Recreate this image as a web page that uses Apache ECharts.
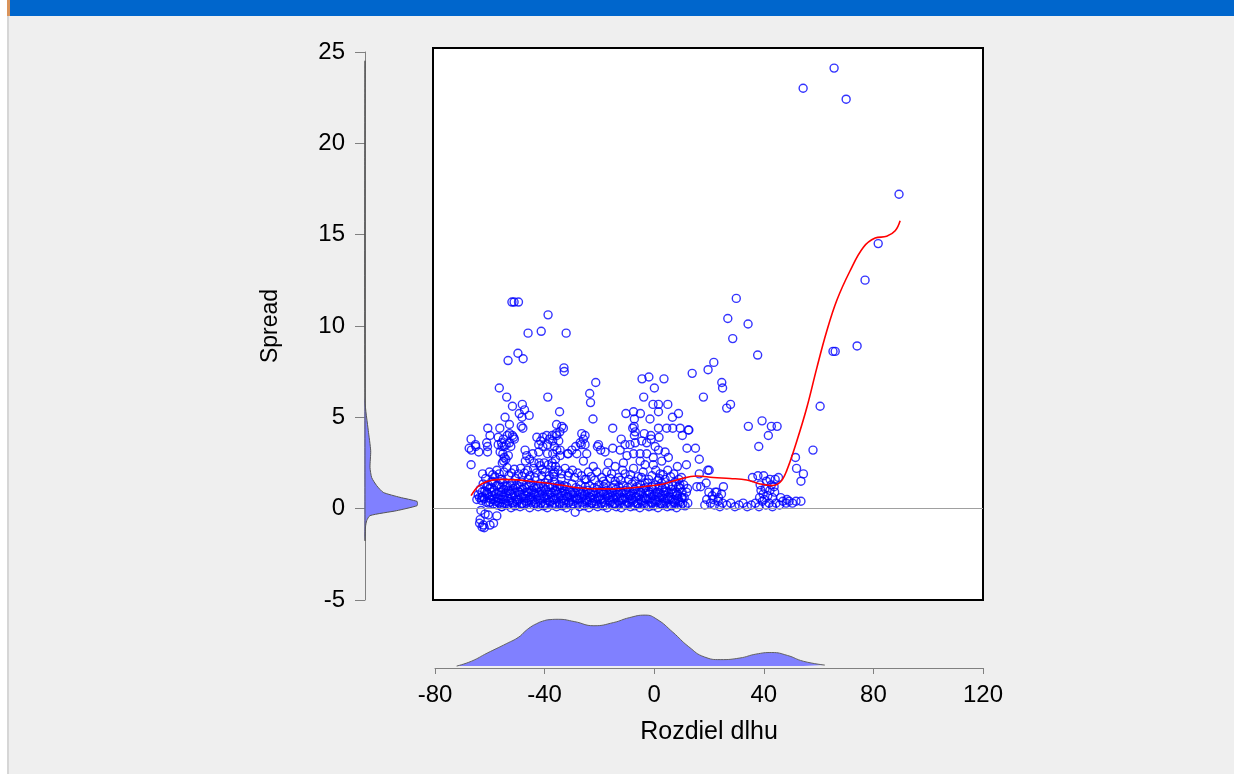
<!DOCTYPE html>
<html>
<head>
<meta charset="utf-8">
<script src="https://cdn.jsdelivr.net/npm/echarts@6/dist/echarts.min.js"></script>
<style>
  html, body { margin: 0; padding: 0; background: #efefef; }
  #chart { position: absolute; left: 0; top: 0; width: 1234px; height: 774px; }
  .bar { position: absolute; left: 10px; top: 0; width: 1224px; height: 16px; background: #0066cc; z-index: 2; }
  .edge { position: absolute; left: 0; top: 0; width: 7px; height: 774px; background: #fff; z-index: 2; }
  .edgeLine { position: absolute; left: 7px; top: 0; width: 2px; height: 774px; background: #d6d6d6; z-index: 2; }
  .edgeTop { position: absolute; left: 7px; top: 0; width: 3px; height: 16px; background: #d9935a; z-index: 3; }
</style>
</head>
<body>
<div class="edge"></div><div class="edgeLine"></div><div class="edgeTop"></div><div class="bar"></div>
<div id="chart"></div>
<script>
// Scatter: Rozdiel dlhu (x) vs Spread (y)
const outlierPoints = [
  [54.4,23.0],[65.7,24.1],[70.1,22.4],[89.4,17.2],[81.8,14.5],[77.0,12.5],[65.3,8.6],[66.1,8.6],
  [74.1,8.9],[60.6,5.6],[58.0,3.2],[51.6,2.8],[52.0,2.2],[54.5,1.9],[53.6,1.5]
];

const upperRightPoints = [
  [30.0,11.5],[26.9,10.4],[34.3,10.1],[28.7,9.3],[37.8,8.4],[21.8,8.0],[19.7,7.6],[13.9,7.4],
  [24.7,6.9],[25.0,6.6],[18.0,6.1],[27.9,5.7],[26.5,5.5],[34.4,4.5],[39.4,4.8],[42.8,4.5],
  [44.9,4.5],[41.7,4.0],[38.2,3.4],[12.7,4.3],[10.3,4.0],[12.0,3.3],[15.1,3.3],[16.5,2.7],
  [11.8,2.4],[16.5,1.9],[19.6,2.1],[20.1,2.1],[19.0,1.4],[15.6,1.2],[17.0,1.2],[12.2,1.1],
  [25.3,1.2],[22.9,0.9],[35.9,1.7],[37.9,1.8],[40.0,1.8],[38.7,1.3],[42.3,1.6],[44.2,1.6],
  [45.4,1.7],[5.0,5.7],[6.7,5.0],[8.9,5.2],[4.6,4.4],[6.8,4.4],[9.5,4.4],[12.5,4.3]
];

const upperLeftPoints = [
  [-51.9,11.3],[-51.1,11.3],[-49.5,11.3],[-38.7,10.6],[-46.0,9.6],[-41.2,9.7],[-32.1,9.6],
  [-49.7,8.5],[-47.8,8.2],[-53.3,8.1],[-32.9,7.7],[-32.8,7.5],[-56.5,6.6],[-38.8,6.1],
  [-53.8,6.1],[-51.7,5.6],[-48.1,5.7],[-47.3,5.4],[-49.2,5.2],[-48.2,5.0],[-45.6,5.1],
  [-54.4,5.0],[-48.5,4.5],[-47.9,4.4],[-52.8,4.6],[-34.5,5.3],[-35.6,4.6],[-33.7,4.5],
  [-34.4,4.2],[-35.5,4.0],[-33.1,4.4],[-60.7,4.4],[-59.9,4.0],[-61.1,3.6],[-60.8,3.4],
  [-60.8,3.1],[-66.8,3.8],[-67.5,3.3],[-65.2,3.5],[-65.1,3.4],[-66.7,3.2],[-64.0,3.1],
  [-66.8,2.4],[-56.3,4.4],[-56.9,3.9],[-55.0,3.8],[-55.7,3.6],[-56.9,3.5],[-55.5,3.4],
  [-54.7,3.4],[-56.2,3.1],[-55.2,3.0],[-54.7,2.8],[-53.2,2.9],[-53.6,4.0],[-51.7,4.0],
  [-51.3,3.9],[-52.8,3.6],[-54.0,3.5],[-52.3,3.4],[-51.0,3.8],[-52.8,4.1],[-54.9,2.6],
  [-55.4,2.5],[-54.1,2.7],[-56.5,1.9],[-47.1,3.2],[-46.5,2.9],[-45.4,2.7],[-47.0,2.6],
  [-44.3,3.0],[-42.1,3.1],[-42.8,3.9],[-41.4,3.7],[-42.1,3.5],[-40.6,3.9],[-39.2,4.0],
  [-38.2,3.8],[-40.6,3.4],[-38.9,3.5],[-37.0,3.7],[-36.4,3.4],[-38.9,3.0],[-37.0,3.0],
  [-35.5,3.2],[-34.8,3.7],[-35.8,4.1],[-37.2,4.0],[-34.3,3.2],[-31.6,3.0],[-34.3,2.9],
  [-36.0,2.7],[-37.2,2.5],[-36.0,2.3],[-36.4,2.0],[-43.8,2.5],[-42.0,2.5],[-40.1,2.5],
  [-38.6,2.4],[-44.0,2.2],[-41.6,2.35],[-39.8,2.0],[-37.3,2.3],[-45.3,1.8],[-36.8,1.9],
  [-59.2,1.5]
];

const upperMidPoints = [
  [-21.3,6.9],[-23.5,6.3],[-23.2,5.8],[-22.3,4.9],[-4.4,7.1],[-1.9,7.2],[3.6,7.1],[0.1,6.6],
  [-3.8,6.1],[-0.4,5.7],[1.6,5.7],[1.6,5.3],[-10.3,5.2],[-7.5,5.3],[-5.0,5.2],[-1.5,4.9],
  [-7.2,4.9],[-7.3,4.5],[-7.8,4.4],[-6.9,4.2],[-7.2,4.0],[-15.1,4.4],[1.6,4.4],[-3.6,4.1],
  [-1.2,4.0],[1.8,3.9],[-1.1,3.8],[-12.0,3.8],[-26.4,4.1],[-25.2,4.0],[-25.8,3.8],[-27.0,3.6],
  [-26.6,3.5],[-25.2,3.5],[-28.6,3.4],[-31.3,3.0],[-20.3,3.5],[-20.7,3.4],[-19.5,3.2],
  [-17.9,3.1],[-15.1,3.3],[-12.4,3.2],[-10.6,3.5],[-8.8,3.5],[-6.9,3.6],[-4.5,3.7],[-2.7,3.6],
  [0.4,3.4],[1.6,3.2],[4.0,3.1],[5.2,2.8],[2.8,2.6],[-0.3,2.8],[-2.7,3.0],[-5.1,3.0],
  [-7.5,3.0],[-9.9,2.9],[-24.0,2.0],[-22.2,2.3],[-20.9,2.0],[-19.1,1.7],[-17.3,2.0],
  [-14.2,2.3],[-13.0,1.7],[-7.5,2.2],[-11.2,2.5],[-16.7,2.5],[-6.9,1.5],[-3.3,1.4],[-0.8,1.8],
  [2.2,1.9],[4.0,1.6],[-10.6,1.9],[-14.2,1.5],[-3.3,2.4],[-0.3,2.4],[-5.1,2.6],[-25.8,2.6],
  [-24.6,3.0],[-28.2,3.0],[-30.0,3.2]
];

const bandPoints = [
  [-57.3,0.2],[-55.6,0.1],[-54.1,0.25],[-52.2,0.05],[-50.8,0.15],[-48.9,0.1],[-47.5,0.2],[-45.4,0.05],
  [-44.0,0.2],[-42.3,0.1],[-40.4,0.15],[-39.0,0.05],[-37.1,0.2],[-35.6,0.1],[-33.5,0.15],[-32.0,0.05],
  [-30.4,0.2],[-28.8,-0.2],[-27.2,0.1],[-25.5,0.15],[-23.8,0.05],[-22.0,0.2],[-20.6,0.1],[-18.7,0.15],
  [-17.1,0.05],[-15.3,0.2],[-13.8,0.1],[-12.0,0.05],[-10.4,0.2],[-8.6,0.1],[-7.1,0.15],[-5.2,0.05],
  [-3.7,0.2],[-1.9,0.1],[-0.3,0.15],[1.4,0.05],[3.1,0.2],[4.8,0.1],[6.4,0.15],[8.2,0.05],[9.8,0.2],[11.3,0.15],
  [-60.4,0.3],[-58.7,0.25],[-56.9,0.35],[-55.1,0.3],[-53.5,0.2],[-51.8,0.3],[-50.0,0.35],[-48.4,0.25],
  [-46.6,0.3],[-44.8,0.35],[-43.3,0.25],[-41.4,0.3],[-39.8,0.2],[-38.0,0.35],[-36.3,0.3],[-34.6,0.25],
  [-32.9,0.3],[-31.1,0.35],[-29.5,0.25],[-27.8,0.3],[-26.0,0.2],[-24.4,0.35],[-22.6,0.3],[-21.0,0.25],
  [-19.2,0.3],[-17.6,0.2],[-15.9,0.35],[-14.2,0.25],[-12.5,0.3],[-10.8,0.2],[-9.1,0.3],[-7.4,0.35],
  [-5.8,0.25],[-4.0,0.3],[-2.3,0.2],[-0.7,0.3],[1.0,0.35],[2.7,0.25],[4.4,0.3],[6.1,0.2],[7.8,0.3],[9.4,0.35],
  [-63.0,0.45],[-61.3,0.35],[-59.6,0.5],[-58.0,0.4],[-56.4,0.3],[-54.9,0.5],[-53.1,0.4],[-51.6,0.35],
  [-49.8,0.45],[-48.2,0.3],[-46.4,0.4],[-44.9,0.5],[-43.1,0.35],[-41.5,0.45],[-39.7,0.3],[-38.2,0.4],
  [-36.4,0.5],[-34.7,0.35],[-33.0,0.45],[-31.3,0.3],[-29.6,0.4],[-28.0,0.5],[-26.3,0.35],[-24.7,0.45],
  [-22.9,0.3],[-21.3,0.4],[-19.6,0.5],[-17.9,0.35],[-16.2,0.45],[-14.6,0.3],[-12.9,0.4],[-11.2,0.5],
  [-9.5,0.35],[-7.9,0.45],[-6.1,0.3],[-4.5,0.4],[-2.8,0.5],[-1.1,0.35],[0.6,0.45],[2.2,0.3],[4.0,0.4],
  [5.6,0.5],[7.3,0.35],[9.0,0.45],[10.5,0.3],
  [-63.7,0.6],[-62.0,0.55],[-60.2,0.6],[-58.6,0.5],[-56.8,0.55],[-55.2,0.65],[-53.4,0.55],[-51.9,0.6],
  [-50.1,0.5],[-48.5,0.6],[-46.8,0.55],[-45.1,0.65],[-43.4,0.5],[-41.7,0.6],[-40.0,0.55],[-38.4,0.6],
  [-36.7,0.5],[-35.0,0.6],[-33.3,0.55],[-31.6,0.65],[-29.9,0.5],[-28.3,0.55],[-26.6,0.6],[-24.9,0.5],
  [-23.2,0.6],[-21.6,0.55],[-19.9,0.65],[-18.2,0.5],[-16.5,0.6],[-14.8,0.55],[-13.2,0.6],[-11.5,0.5],
  [-9.8,0.6],[-8.1,0.55],[-6.4,0.65],[-4.8,0.5],[-3.1,0.55],[-1.4,0.6],[0.3,0.5],[2.0,0.6],[3.6,0.55],
  [5.3,0.65],[7.0,0.5],[8.7,0.55],[10.3,0.6],
  [-64.2,0.75],[-62.6,0.65],[-60.7,0.8],[-59.1,0.7],[-57.2,0.6],[-55.7,0.75],[-53.8,0.7],[-52.3,0.8],
  [-50.5,0.65],[-48.9,0.75],[-47.0,0.7],[-45.5,0.6],[-43.7,0.8],[-42.1,0.7],[-40.3,0.65],[-38.8,0.75],
  [-37.0,0.6],[-35.4,0.8],[-33.7,0.7],[-32.0,0.65],[-30.3,0.75],[-28.7,0.6],[-27.0,0.8],[-25.4,0.7],
  [-23.6,0.65],[-22.1,0.75],[-20.3,0.6],[-18.6,0.8],[-17.0,0.7],[-15.2,0.65],[-13.6,0.75],[-11.9,0.6],
  [-10.2,0.8],[-8.6,0.7],[-6.8,0.65],[-5.3,0.75],[-3.5,0.6],[-1.8,0.8],[-0.1,0.7],[1.5,0.65],[3.3,0.75],
  [4.9,0.6],[6.6,0.8],[8.3,0.7],[10.0,0.6],
  [-62.8,0.9],[-61.1,0.85],[-59.3,0.9],[-57.7,0.8],[-55.9,0.9],[-54.3,0.85],[-52.6,0.95],[-50.9,0.85],
  [-49.2,0.9],[-47.5,0.8],[-45.8,0.9],[-44.1,0.85],[-42.4,0.9],[-40.7,0.8],[-39.0,0.9],[-37.3,0.85],
  [-35.6,0.95],[-33.9,0.85],[-32.2,0.8],[-30.5,0.9],[-28.8,0.85],[-27.1,0.9],[-25.4,0.8],[-23.7,0.85],
  [-22.0,0.9],[-20.3,0.85],[-18.6,0.9],[-16.9,0.8],[-15.2,0.85],[-13.5,0.9],[-11.8,0.85],[-10.1,0.9],
  [-8.4,0.8],[-6.7,0.85],[-5.0,0.9],[-3.3,0.85],[-1.6,0.9],[0.1,0.8],[1.8,0.85],[3.5,0.9],[5.2,0.85],
  [6.9,0.9],[8.6,0.8],[10.2,0.9],
  [-63.5,1.05],[-61.8,0.95],[-60.0,1.1],[-58.3,1.0],[-56.7,0.9],[-54.9,1.05],[-53.2,1.0],[-51.4,1.1],
  [-49.7,0.95],[-48.0,1.05],[-46.3,0.9],[-44.6,1.0],[-42.8,1.1],[-41.1,0.95],[-39.5,1.05],[-37.7,0.9],
  [-36.0,1.0],[-34.3,1.1],[-32.5,0.95],[-30.9,1.0],[-29.1,0.9],[-27.5,1.05],[-25.7,0.95],[-24.1,1.0],
  [-22.4,0.9],[-20.7,1.05],[-19.0,0.95],[-17.3,1.0],[-15.6,0.9],[-13.9,1.05],[-12.2,0.95],[-10.5,1.0],
  [-8.8,0.9],[-7.1,1.05],[-5.5,0.95],[-3.8,1.1],[-2.1,0.95],[-0.4,1.05],[1.3,0.9],[3.0,1.1],[4.6,0.95],
  [6.3,1.05],[8.0,0.9],[9.6,1.1],
  [-61.0,1.2],[-59.2,1.15],[-57.5,1.25],[-55.8,1.15],[-54.0,1.2],[-52.4,1.25],[-50.6,1.15],[-48.9,1.2],
  [-47.2,1.15],[-45.5,1.25],[-43.8,1.15],[-42.1,1.2],[-40.4,1.15],[-38.7,1.2],[-37.0,1.15],[-35.3,1.2],
  [-33.6,1.15],[-31.9,1.2],[-28.5,1.15],[-25.1,1.2],[-21.8,1.15],[-18.4,1.2],[-15.0,1.15],[-12.9,1.2],
  [-9.6,1.15],[-6.3,1.2],[-3.0,1.15],[-0.9,1.2],[1.8,1.2],[4.1,1.15],[6.8,1.25],[8.9,1.2],
  [-62.4,1.35],[-60.6,1.3],[-58.8,1.45],[-57.0,1.3],[-55.3,1.4],[-53.6,1.25],[-51.9,1.4],[-50.1,1.3],
  [-48.4,1.45],[-46.7,1.3],[-45.0,1.4],[-43.2,1.25],[-41.5,1.35],[-39.8,1.4],[-38.0,1.3],[-36.3,1.45],
  [-34.5,1.3],[-32.8,1.25],[-30.0,1.35],[-26.8,1.3],[-23.5,1.25],[-20.1,1.3],[-17.8,1.35],[-14.4,1.3],
  [-11.3,1.25],[-8.1,1.35],[-5.0,1.3],[-2.4,1.4],[0.5,1.3],[2.7,1.4],[5.3,1.3],[7.6,1.45],[9.4,1.3],
  [-61.5,1.65],[-58.1,1.75],[-55.8,1.6],[-53.0,1.8],[-50.6,1.65],[-48.2,1.75],[-45.9,1.6],[-43.5,1.7],
  [-41.0,1.8],[-38.7,1.6],[-36.5,1.75],[-33.9,1.65],[-31.4,1.8],[-25.3,1.6],[-16.0,1.65],[-9.2,1.6],
  [-4.6,1.7],[1.9,1.65],[6.0,1.75],[9.0,1.6],
  [-62.6,1.9],[-60.1,2.0],[-58.9,1.85],[-57.4,2.1],[-56.2,1.6],[-54.8,2.0],[-53.7,2.25],[-52.1,1.95],
  [-51.0,2.15],[-49.5,1.9],[-48.7,2.2],[-47.3,1.95],[-46.2,2.1],[-43.0,1.95],[-40.8,2.15],[-38.3,1.8],
  [-35.0,2.1],[-33.8,1.9],[-32.5,2.2],[-31.0,1.95],[-29.8,2.1],[-29.0,1.7],[-27.9,1.95],[-26.5,1.8],
  [-24.8,1.6],[-23.0,1.75],[-21.7,1.55],[-18.5,1.5],[-15.5,1.9],[-12.2,1.55],[-11.5,2.1],[-8.6,1.85],
  [-5.8,1.75],[-4.0,2.0],[-2.0,1.6],[0.6,2.1],[1.4,1.55],[3.3,1.85],[5.0,2.1],[7.2,1.9],[8.5,2.3],[10.0,1.7]
];

const lowRightPoints = [
  [11.0,0.6],[11.8,0.9],[10.8,1.3],[12.3,0.3],
  [20.0,0.9],[21.2,0.7],[22.3,0.9],[23.5,0.6],[24.6,0.8],[19.2,0.5],[20.6,0.3],[22.0,0.2],[23.4,0.4],
  [25.0,0.3],[18.5,0.2],[21.5,0.5],[24.0,0.1],
  [26.5,0.2],[28.0,0.3],[29.5,0.1],[31.0,0.2],[32.5,0.3],[34.0,0.1],[35.5,0.2],[37.0,0.3],[38.3,0.1],
  [39.5,0.4],[40.8,0.2],[42.0,0.3],[43.2,0.1],[44.5,0.3],[45.8,0.2],[47.0,0.4],[48.2,0.3],[49.3,0.4],
  [50.5,0.3],[51.8,0.4],[53.6,0.4],
  [38.5,0.6],[39.8,0.8],[40.5,1.1],[41.5,0.7],[42.3,1.0],[43.2,0.6],[44.0,0.9],[40.2,0.5],[42.8,1.3],
  [39.0,1.0],[41.0,1.5],[43.8,1.2],[46.2,0.6],[48.5,0.5]
];

const negativePoints = [
  [-64.7,0.5],[-62.9,0.6],[-63.2,-0.1],[-63.5,-0.6],[-63.7,-0.8],[-62.3,-0.9],[-59.9,-0.9],[-58.6,-0.8],
  [-61.7,-0.3],[-57.4,-0.4],[-55.6,0.1],[-59.9,0.35],[-62.0,-1.05],[-62.8,-1.0],[-60.5,-0.35]
];

// Smoothed fit (red)
const fitLine = [
  [-66.8,0.71],[-63.5,1.3],[-58.6,1.57],[-55.6,1.6],[-50.1,1.57],[-45.3,1.5],[-39.2,1.4],[-33.1,1.26],
  [-27.0,1.13],[-20.9,1.08],[-14.8,1.08],[-8.8,1.13],[-2.7,1.22],[3.4,1.35],[9.0,1.6],[15.6,1.78],
  [21.6,1.7],[27.7,1.65],[33.8,1.57],[38.7,1.35],[42.9,1.26],[46.0,1.44],[48.4,2.08],[52.1,3.7],
  [55.7,5.5],[59.4,7.7],[63.0,9.7],[66.7,11.4],[71.5,13.0],[76.4,14.3],[80.7,14.8],[84.9,14.9],
  [88.0,15.2],[89.8,15.75]
];

// Kernel density of Rozdiel dlhu (bottom margin)
const xDensity = [
  [-72.1,0],[-66.7,0.015],[-61.0,0.040],[-53.8,0.070],[-49.4,0.090],[-47.2,0.107],[-45.1,0.121],
  [-43.0,0.131],[-40.8,0.139],[-38.0,0.144],[-35.0,0.145],[-29.2,0.138],[-22.0,0.125],[-14.8,0.135],
  [-9.1,0.150],[-3.3,0.158],[1.0,0.145],[6.8,0.105],[12.6,0.060],[18.4,0.028],[24.1,0.020],
  [31.3,0.025],[37.1,0.037],[42.9,0.042],[48.6,0.033],[54.4,0.015],[62.3,0.003]
];

// Kernel density of Spread (left margin): [density, spread]
const yDensity = [
  [0,24.5],[0,5.9],[0.033,4.27],[0.057,3.17],[0.05,2.26],[0.067,1.7],[0.117,1.26],[0.183,0.89],
  [0.35,0.62],[0.52,0.4],[0.525,0.28],[0.52,0.16],[0.317,-0.11],[0.05,-0.38],[0.017,-0.66],
  [0.005,-1.0],[0,-1.75]
];

const xTicks = { min: -80, max: 120, interval: 40 };
const yTicks = { min: -5, max: 25, interval: 5 };

const allPoints = [].concat(outlierPoints, upperRightPoints, upperLeftPoints, upperMidPoints,
  bandPoints, lowRightPoints, negativePoints);

const font = 'Liberation Sans, Arial, sans-serif';
const axisGrey = '#808080';

const chart = echarts.init(document.getElementById('chart'));
chart.setOption({
  animation: false,
  backgroundColor: 'transparent',
  textStyle: { fontFamily: font },
  grid: [
    { left: 433, top: 48, width: 550, height: 552, show: true, backgroundColor: '#ffffff',
      borderColor: '#000000', borderWidth: 2 },
    { left: 365, top: 52, width: 60, height: 548 },
    { left: 435, top: 608, width: 548, height: 60 }
  ],
  xAxis: [
    { gridIndex: 0, type: 'value', min: -80.7, max: 120.05, show: false },
    { gridIndex: 1, type: 'value', min: 0, max: 0.6, show: false },
    { gridIndex: 2, type: 'value', min: xTicks.min, max: xTicks.max, interval: xTicks.interval,
      position: 'bottom',
      name: 'Rozdiel dlhu', nameLocation: 'middle', nameGap: 52,
      nameTextStyle: { color: '#000', fontSize: 25, fontFamily: font },
      axisLine: { onZero: false, lineStyle: { color: axisGrey, width: 1 } },
      axisTick: { length: 6, lineStyle: { color: axisGrey } },
      axisLabel: { color: '#000', fontSize: 24, margin: 15, fontFamily: font },
      splitLine: { show: false } }
  ],
  yAxis: [
    { gridIndex: 0, type: 'value', min: -5, max: 25.2, show: false },
    { gridIndex: 1, type: 'value', min: yTicks.min, max: yTicks.max, interval: yTicks.interval,
      position: 'left',
      name: 'Spread', nameLocation: 'middle', nameGap: 83,
      nameTextStyle: { color: '#000', fontSize: 23, fontFamily: font },
      axisLine: { show: true, onZero: false, lineStyle: { color: axisGrey, width: 1 } },
      axisTick: { show: true, length: 10, lineStyle: { color: axisGrey } },
      axisLabel: { color: '#000', fontSize: 24, margin: 20, fontFamily: font },
      splitLine: { show: false } },
    { gridIndex: 2, type: 'value', min: -0.006, max: 0.18, show: false }
  ],
  series: [
    {
      type: 'scatter', xAxisIndex: 0, yAxisIndex: 0,
      data: allPoints,
      symbol: 'circle', symbolSize: 8,
      itemStyle: { color: 'transparent', borderColor: '#0000ff', borderWidth: 1.4 },
      emphasis: { disabled: true },
      markLine: {
        silent: true, symbol: 'none', label: { show: false },
        lineStyle: { color: '#a0a0a0', width: 1, type: 'solid' },
        data: [{ yAxis: 0 }]
      },
      z: 3
    },
    {
      type: 'line', xAxisIndex: 0, yAxisIndex: 0,
      data: fitLine, smooth: 0.4, showSymbol: false,
      lineStyle: { color: '#ff0000', width: 1.6 },
      z: 4
    },
    {
      type: 'custom', xAxisIndex: 1, yAxisIndex: 1, coordinateSystem: 'cartesian2d',
      data: [[0, 0]], clip: false,
      renderItem: function (params, api) {
        const pts = yDensity.map(function (d) { return api.coord([d[0], d[1]]); });
        return { type: 'polygon', shape: { points: pts, smooth: 0.2 },
          style: { fill: '#8080ff', stroke: '#555555', lineWidth: 1 } };
      },
      z: 5
    },
    {
      type: 'line', xAxisIndex: 2, yAxisIndex: 2,
      data: xDensity, smooth: 0.5, showSymbol: false,
      lineStyle: { color: '#606060', width: 1 },
      areaStyle: { color: '#8080ff', opacity: 1 }
    }
  ]
});
</script>
</body>
</html>
